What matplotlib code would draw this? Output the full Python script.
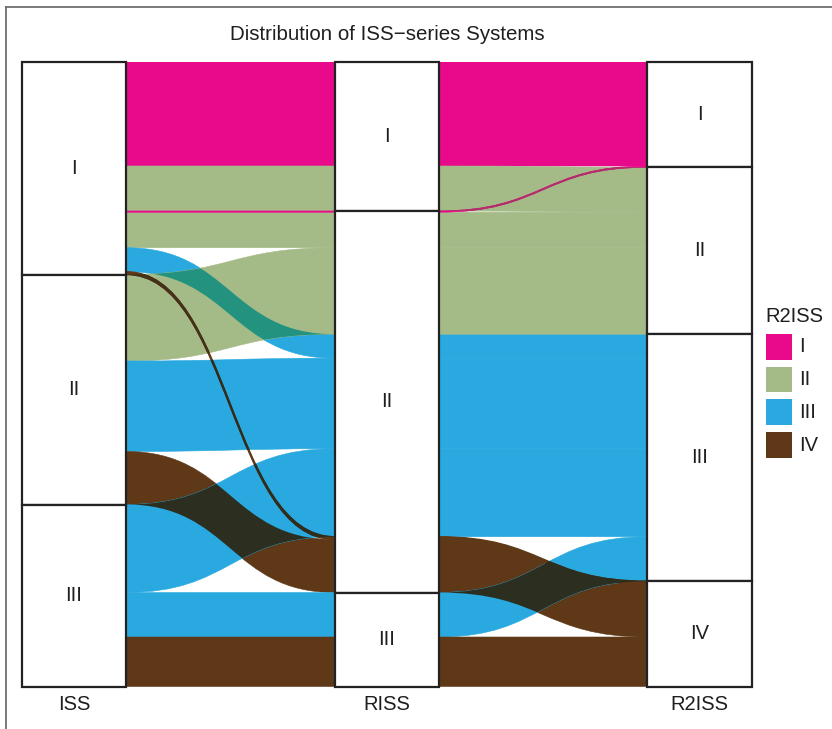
import numpy as np
import matplotlib
matplotlib.use("Agg")
import matplotlib.pyplot as plt
from matplotlib.path import Path
from matplotlib.patches import PathPatch, Rectangle
from matplotlib.lines import Line2D
from matplotlib.transforms import blended_transform_factory

plt.rcParams['font.family'] = ['Liberation Sans', 'DejaVu Sans']

# ---------------- data ----------------
axes_names = ["ISS", "RISS", "R2ISS"]
levels = {"ISS": ["I", "II", "III"],
          "RISS": ["I", "II", "III"],
          "R2ISS": ["I", "II", "III", "IV"]}
iss   = ["I", "I", "I", "I", "I", "I", "II", "II", "II", "III", "III", "III"]
riss  = ["I", "I", "II", "II", "II", "II", "II", "II", "II", "II", "III", "III"]
r2iss = ["I", "II", "I", "II", "III", "IV", "II", "III", "IV", "III", "III", "IV"]
freq  = [104, 45, 1.2, 35.5, 24, 2.8, 86.5, 90.5, 53, 88, 44.5, 49.5]

fill_colors = {"I": "#E90A8B", "II": "#A4BB87", "III": "#29A9E0", "IV": "#5E3817"}
overlap_colors = {frozenset(["II", "III"]): "#23927F",
                  frozenset(["III", "IV"]): "#2C2E1F",
                  frozenset(["I", "II"]): "#B0306A",
                  frozenset(["II", "IV"]): "#45301A"}
TXT = "#1e1e1e"
FS = 14.5

# ---------------- layout ----------------
W, H = 832, 729
fig = plt.figure(figsize=(W / 100, H / 100), dpi=100)
total = float(np.sum(freq))
left_px, right_px, top_px, bot_px = 21.9, 751.6, 62.0, 686.5
ax = fig.add_axes([left_px / W, (H - bot_px) / H, (right_px - left_px) / W, (bot_px - top_px) / H])
ax.set_xlim(5 / 6, 19 / 6)
ax.set_ylim(total, 0)
ax.axis("off")

cols = [iss, riss, r2iss]
n = len(freq)
lvl_idx = [[levels[axes_names[a]].index(cols[a][i]) for i in range(n)] for a in range(3)]
order_keys = [(0, 1, 2), (1, 2, 0), (2, 1, 0)]

tops = np.zeros((3, n))
for a in range(3):
    keys = order_keys[a]
    idx = sorted(range(n), key=lambda i: tuple(lvl_idx[k][i] for k in keys))
    y = 0.0
    for i in idx:
        tops[a, i] = y
        y += freq[i]

sw = 1 / 3  # stratum width
xpos = [1, 2, 3]


def flow_path(x0, x1, t0, b0, t1, b1):
    xm = (x0 + x1) / 2
    verts = [(x0, t0), (xm, t0), (xm, t1), (x1, t1),
             (x1, b1), (xm, b1), (xm, b0), (x0, b0), (x0, t0)]
    codes = [Path.MOVETO, Path.CURVE4, Path.CURVE4, Path.CURVE4,
             Path.LINETO, Path.CURVE4, Path.CURVE4, Path.CURVE4, Path.CLOSEPOLY]
    return Path(verts, codes)


thin = 5.0
for g in range(2):
    x0 = xpos[g] + sw / 2
    x1 = xpos[g + 1] - sw / 2
    patches = []
    for i in range(n):
        t0, t1 = tops[g, i], tops[g + 1, i]
        p = flow_path(x0, x1, t0, t0 + freq[i], t1, t1 + freq[i])
        c = fill_colors[r2iss[i]]
        is_thin = freq[i] < thin
        lw = (0.9 if r2iss[i] == "IV" else 0.5) if is_thin else 0.4
        pp = PathPatch(p, facecolor=c, edgecolor=c, lw=lw, zorder=3 if is_thin else 2)
        ax.add_patch(pp)
        patches.append((p, pp))
    # overlaps of crossing flows
    for i in range(n):
        for j in range(n):
            if i == j:
                continue
            key = frozenset([r2iss[i], r2iss[j]])
            if key not in overlap_colors:
                continue
            ci0 = tops[g, i] + freq[i] / 2
            cj0 = tops[g, j] + freq[j] / 2
            ci1 = tops[g + 1, i] + freq[i] / 2
            cj1 = tops[g + 1, j] + freq[j] / 2
            if np.sign(ci0 - cj0) == np.sign(ci1 - cj1):
                continue
            if freq[j] < thin or (freq[i] >= thin and j > i):
                c = overlap_colors[key]
                if freq[j] < thin:
                    lw = 0.9 if r2iss[j] == "IV" else 0.6
                else:
                    lw = 0
                op = PathPatch(patches[j][0], facecolor=c, edgecolor=c, lw=lw, zorder=4)
                ax.add_patch(op)
                op.set_clip_path(patches[i][1])

# strata
for a in range(3):
    name = axes_names[a]
    y = 0.0
    for lv in levels[name]:
        h = sum(f for f, v in zip(freq, cols[a]) if v == lv)
        ax.add_patch(Rectangle((xpos[a] - sw / 2, y), sw, h, facecolor="white",
                               edgecolor="#222222", lw=1.6, zorder=6, clip_on=False))
        ax.text(xpos[a], y + h / 2, lv, ha="center", va="center", fontsize=FS, color=TXT, zorder=7)
        y += h

trans = blended_transform_factory(ax.transData, ax.transAxes)
for a in range(3):
    ax.text(xpos[a], -(704 - bot_px) / (bot_px - top_px), axes_names[a], transform=trans,
            ha="center", va="center", fontsize=FS, color=TXT)

fig.text(387 / W, 1 - 35 / H, "Distribution of ISS\u2212series Systems", ha="center", va="center",
         fontsize=14.8, color=TXT)

# legend (drawn in figure pixel positions)
fig.text(765 / W, 1 - 316 / H, "R2ISS", ha="left", va="center", fontsize=FS, color=TXT)
for k, lv in enumerate(levels["R2ISS"]):
    ytop = 334 + k * 32.7
    fig.add_artist(Rectangle((766 / W, 1 - (ytop + 25.5) / H), 26 / W, 25.5 / H,
                             facecolor=fill_colors[lv], edgecolor="none", transform=fig.transFigure))
    fig.text(799 / W, 1 - (ytop + 13) / H, lv, ha="left", va="center", fontsize=FS, color=TXT)

# outer frame
fig.add_artist(Line2D([6 / W, 6 / W], [0, 1 - 7 / H], color="#707070", lw=1.3))
fig.add_artist(Line2D([6 / W, 1], [1 - 7 / H, 1 - 7 / H], color="#707070", lw=1.3))

fig.savefig("out.png", dpi=100)
